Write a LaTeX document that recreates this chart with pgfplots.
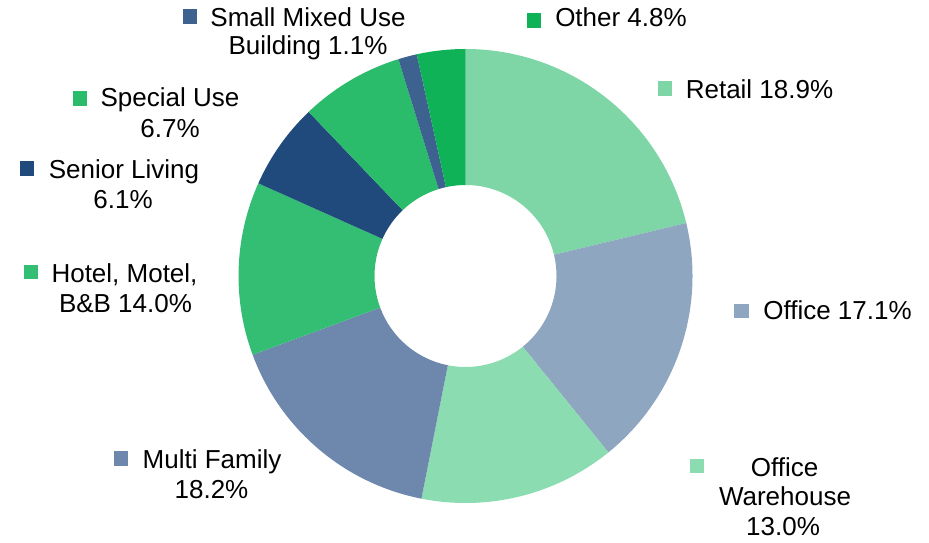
\documentclass[border=0pt]{standalone}
\usepackage{pgfplots}
\pgfplotsset{compat=1.18}
\usepackage{fontspec}
\setmainfont{Liberation Sans}

\definecolor{cRetail}{HTML}{7ED5A6}
\definecolor{cOffice}{HTML}{8FA6C1}
\definecolor{cOffWh}{HTML}{8CDCB1}
\definecolor{cMulti}{HTML}{6D88AC}
\definecolor{cHotel}{HTML}{34BE74}
\definecolor{cSenior}{HTML}{214A7C}
\definecolor{cSpecial}{HTML}{2ABB6B}
\definecolor{cSmall}{HTML}{3D6290}
\definecolor{cOther}{HTML}{10B257}

% one ring segment: start angle, end angle (clockwise), colour
% centre (465.5,266), outer radius 227, inner radius 91 (axis units = px)
\newcommand{\slice}[3]{%
  \fill[#3] (axis cs:{465.5+227*cos(#1)},{266+227*sin(#1)})
    arc[start angle=#1, end angle=#2, radius=113.5pt]
    -- (axis cs:{465.5+91*cos(#2)},{266+91*sin(#2)})
    arc[start angle=#2, end angle=#1, radius=45.5pt] -- cycle;}

\newcommand{\lab}[3]{\node[anchor=base, inner sep=0pt] at (axis cs:#1,#2) {#3};}

\begin{document}
\begin{tikzpicture}
\begin{axis}[
  hide axis, scale only axis, clip=false,
  x=0.5pt, y=0.5pt,
  xmin=0, xmax=929, ymin=0, ymax=542,
  font=\fontsize{13}{15}\selectfont,
]
\coordinate (BL) at (axis cs:0,0);
\coordinate (TR) at (axis cs:929,542);

% ring, clockwise from the top
\slice{90}{13.5}{cRetail}
\slice{13.5}{-51}{cOffice}
\slice{-51}{-101.2}{cOffWh}
\slice{-101.2}{-159.7}{cMulti}
\slice{-159.7}{-204.1}{cHotel}
\slice{-204.1}{-226.3}{cSenior}
\slice{-226.3}{-252.8}{cSpecial}
\slice{-252.8}{-257.6}{cSmall}
\slice{-257.6}{-270}{cOther}

% label keys
\addplot[only marks, mark=square*, mark size=3.4pt, cRetail] coordinates {(665,453.5)};
\addplot[only marks, mark=square*, mark size=3.4pt, cOffice] coordinates {(741.5,231)};
\addplot[only marks, mark=square*, mark size=3.4pt, cOffWh] coordinates {(697,76)};
\addplot[only marks, mark=square*, mark size=3.4pt, cMulti] coordinates {(121,83.5)};
\addplot[only marks, mark=square*, mark size=3.4pt, cHotel] coordinates {(31,270)};
\addplot[only marks, mark=square*, mark size=3.4pt, cSenior] coordinates {(27,373.5)};
\addplot[only marks, mark=square*, mark size=3.4pt, cSpecial] coordinates {(80,443.5)};
\addplot[only marks, mark=square*, mark size=3.4pt, cSmall] coordinates {(190,525.5)};
\addplot[only marks, mark=square*, mark size=3.4pt, cOther] coordinates {(534,521.5)};

% label texts (baselines)
\lab{759.5}{443}{Retail 18.9\%}
\lab{837.5}{223}{Office 17.1\%}
\lab{784.5}{66}{Office}
\lab{785}{37}{Warehouse}
\lab{783}{7}{13.0\%}
\lab{212}{74}{Multi Family}
\lab{211.5}{44}{18.2\%}
\lab{124.5}{260}{Hotel, Motel,}
\lab{125.5}{230}{B\&B 14.0\%}
\lab{124}{364}{Senior Living}
\lab{123}{334}{6.1\%}
\lab{170}{435}{Special Use}
\lab{170}{404}{6.7\%}
\lab{308}{515}{Small Mixed Use}
\lab{308}{487}{Building 1.1\%}
\lab{621}{515}{Other 4.8\%}
\end{axis}
\pgfresetboundingbox
\useasboundingbox (BL) rectangle (TR);
\end{tikzpicture}
\end{document}
